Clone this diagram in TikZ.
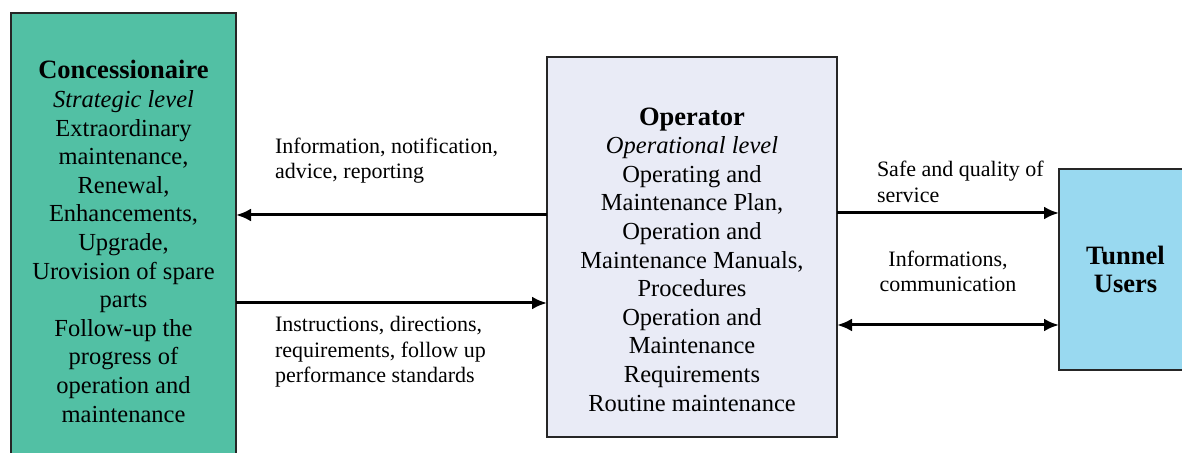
\documentclass[tikz,border=0pt]{standalone}
\usepackage{fontspec}
\setmainfont{LiberationSerif}[Extension=.ttf, UprightFont=*-Regular, BoldFont=*-Bold,
   ItalicFont=*-Italic, BoldItalicFont=*-BoldItalic]
\usepackage{tikz}
\usetikzlibrary{arrows.meta,calc,positioning}
\definecolor{concgreen}{RGB}{82,192,164}
\definecolor{oplilac}{RGB}{233,235,246}
\definecolor{userblue}{RGB}{153,217,240}
\tikzset{
	flow diagram/.style={
		x=0.5pt, y=-0.5pt,
		every node/.style={inner sep=0pt, outer sep=0pt},
		box/.style={draw=black!85, line width=1pt, align=center,
			font=\fontsize{12.25}{14.3}\selectfont},
		boxtext/.style={align=center, font=\fontsize{12.25}{14.3}\selectfont},
		label/.style={align=left, font=\fontsize{11}{12.8}\selectfont},
		ar/.style={draw, line width=1.5pt, -{Latex[length=7.5pt,width=6.5pt]}},
		arr/.style={ar, {Latex[length=7.5pt,width=6.5pt]}-{Latex[length=7.5pt,width=6.5pt]}}
		}
}
\newcommand{\boxhead}[1]{{\fontsize{13.25}{14.3}\selectfont\bfseries #1}}

\begin{document}
\begin{tikzpicture}[flow diagram]
   \useasboundingbox (0,0) rectangle (1182,453);
   \clip (0,0) rectangle (1182,453);
   \node[box, fill=concgreen, minimum width=112.5pt, minimum height=228.5pt] (conc) at (123.5,241.5)
      {\boxhead{Concessionaire}\\ \textit{Strategic level}\\ Extraordinary\\ maintenance,\\ Renewal,\\
       Enhancements,\\ Upgrade,\\ Urovision of spare\\ parts\\ Follow-up the\\ progress of\\
       operation and\\ maintenance};
   \node[box, fill=oplilac, minimum width=145pt, minimum height=190pt] (op) at (692,247) {};
   \node[boxtext] (optext) at (692,259.5)
      {\boxhead{Operator}\\ \textit{Operational level}\\ Operating and\\ Maintenance Plan,\\
       Operation and\\ Maintenance Manuals,\\ Procedures\\ Operation and\\ Maintenance\\
       Requirements\\ Routine maintenance};
   \node[box, fill=userblue, minimum width=66.5pt, minimum height=100.5pt] (users) at (1125.5,269.5)
      {\boxhead{Tunnel}\\ \boxhead{Users}};
   % ports on the operator box
   \coordinate (op_in1)  at ([yshift=16pt]op.west);
   \coordinate (op_in2)  at ([yshift=-28pt]op.west);
   \coordinate (op_out1) at ([yshift=17pt]op.east);
   \coordinate (op_out2) at ([yshift=-39pt]op.east);
   \draw[ar]  (op_in1) -- (op_in1 -| conc.east);
   \draw[ar]  (op_in2 -| conc.east) -- (op_in2);
   \draw[ar]  (op_out1) -- (op_out1 -| users.west);
   \draw[arr] (op_out2) -- (op_out2 -| users.west);
   \node[label, anchor=west] (info) at (275,160.5)
      {Information, notification,\\ advice, reporting};
   \node[label, anchor=west] (instr) at (275,352)
      {Instructions, directions,\\ requirements, follow up\\ performance standards};
   \node[label, anchor=west] (safe) at (877,182)
      {Safe and quality of\\ service};
   \node[label, align=center] (comm) at (948,271.5)
      {Informations,\\ communication};
\end{tikzpicture}
\end{document}
